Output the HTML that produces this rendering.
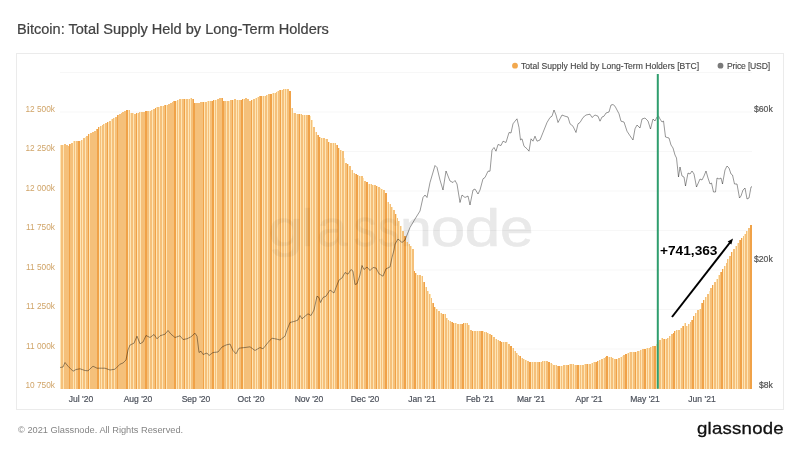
<!DOCTYPE html>
<html><head><meta charset="utf-8"><title>Bitcoin: Total Supply Held by Long-Term Holders</title>
<style>
html,body{margin:0;padding:0;background:#fff;}
body{width:800px;height:450px;position:relative;overflow:hidden;font-family:"Liberation Sans",sans-serif;}
.abs{position:absolute;white-space:nowrap;}
.abs,.yl,.xl,.rl,.lg{will-change:transform;}
#title{left:16.5px;top:19px;font-size:14.55px;color:#424242;line-height:20px;letter-spacing:0px;-webkit-text-stroke:0.22px #424242;}
#frame{position:absolute;left:16px;top:53px;width:768px;height:357px;border:1px solid #ebebeb;box-sizing:border-box;}
.yl{position:absolute;left:19px;width:36px;text-align:right;font-size:8.3px;line-height:12px;color:#d0a468;white-space:nowrap;}
.xl{position:absolute;top:393px;width:60px;text-align:center;font-size:8.55px;line-height:12px;color:#4d525c;-webkit-text-stroke:0.2px #4d525c;white-space:nowrap;}
.rl{position:absolute;left:754px;font-size:8.65px;line-height:12px;color:#555;-webkit-text-stroke:0.2px #555;white-space:nowrap;}
.lg{position:absolute;top:60px;font-size:8.6px;line-height:12px;color:#444;-webkit-text-stroke:0.12px #444;white-space:nowrap;}
#copy{left:17.8px;top:424px;font-size:9.25px;line-height:12px;color:#858585;}
#logo{left:697.3px;top:416.2px;font-size:16.4px;line-height:24px;letter-spacing:0.2px;color:#111;-webkit-text-stroke:0.3px #111;transform:scaleX(1.135);transform-origin:0 0;}
.wm{left:270.5px;top:196px;font-size:54px;line-height:64px;letter-spacing:0px;color:#7a7a7a;-webkit-text-stroke:1.4px #7a7a7a;transform:scaleX(1.07);transform-origin:0 0;}
#anno{left:660.3px;top:243.2px;font-size:13.7px;line-height:16px;font-weight:bold;color:#000;}
svg{position:absolute;left:0;top:0;}
</style></head><body>
<div id="title" class="abs">Bitcoin: Total Supply Held by Long-Term Holders</div>
<div id="frame"></div>
<svg width="800" height="450" viewBox="0 0 800 450">
<g stroke="#f7f7f7" stroke-width="1"><line x1="60" x2="752" y1="72.50" y2="72.50"/><line x1="60" x2="752" y1="112.00" y2="112.00"/><line x1="60" x2="752" y1="151.50" y2="151.50"/><line x1="60" x2="752" y1="191.00" y2="191.00"/><line x1="60" x2="752" y1="230.50" y2="230.50"/><line x1="60" x2="752" y1="270.00" y2="270.00"/><line x1="60" x2="752" y1="309.50" y2="309.50"/><line x1="60" x2="752" y1="349.00" y2="349.00"/><line x1="60" x2="752" y1="388.50" y2="388.50"/></g>
<g opacity="0.09" fill="#7a7a7a" stroke="#7a7a7a" stroke-width="0.6" stroke-linejoin="round" font-family="Liberation Sans, sans-serif" font-size="52.0"><text transform="translate(268.23,246.0) scale(1.2049,1)">g</text><text transform="translate(301.42,246.0) scale(1.0250,1)">l</text><text transform="translate(316.68,246.0) scale(1.0581,1)">a</text><text transform="translate(353.57,246.0) scale(0.9022,1)">s</text><text transform="translate(378.05,246.0) scale(0.8334,1)">s</text><text transform="translate(399.94,246.0) scale(1.0974,1)">n</text><text transform="translate(430.97,246.0) scale(1.1847,1)">o</text><text transform="translate(464.46,246.0) scale(1.2425,1)">d</text><text transform="translate(499.98,246.0) scale(1.1601,1)">e</text></g>
<g shape-rendering="crispEdges">
<g fill="rgb(240,162,72)"><rect x="69" y="144.2" width="1" height="244.5"/><rect x="78" y="140.5" width="1" height="248.2"/><rect x="79" y="140.5" width="1" height="248.2"/><rect x="88" y="134.3" width="1" height="254.4"/><rect x="97" y="129.1" width="1" height="259.6"/><rect x="98" y="127.2" width="1" height="261.5"/><rect x="107" y="122.0" width="1" height="266.7"/><rect x="117" y="115.3" width="1" height="273.4"/><rect x="126" y="110.3" width="1" height="278.4"/><rect x="127" y="110.3" width="1" height="278.4"/><rect x="136" y="113.4" width="1" height="275.3"/><rect x="145" y="111.0" width="1" height="277.7"/><rect x="146" y="111.0" width="1" height="277.7"/><rect x="155" y="107.9" width="1" height="280.8"/><rect x="165" y="105.0" width="1" height="283.7"/><rect x="174" y="101.3" width="1" height="287.4"/><rect x="175" y="100.5" width="1" height="288.2"/><rect x="184" y="98.8" width="1" height="289.9"/><rect x="193" y="99.3" width="1" height="289.4"/><rect x="194" y="102.5" width="1" height="286.2"/><rect x="203" y="102.1" width="1" height="286.6"/><rect x="212" y="100.6" width="1" height="288.1"/><rect x="213" y="100.2" width="1" height="288.5"/><rect x="222" y="97.6" width="1" height="291.1"/><rect x="223" y="101.0" width="1" height="287.7"/><rect x="232" y="99.7" width="1" height="289.0"/><rect x="241" y="99.8" width="1" height="288.9"/><rect x="242" y="99.1" width="1" height="289.6"/><rect x="251" y="99.9" width="1" height="288.8"/><rect x="260" y="95.8" width="1" height="292.9"/><rect x="261" y="95.8" width="1" height="292.9"/><rect x="270" y="93.5" width="1" height="295.2"/><rect x="271" y="93.5" width="1" height="295.2"/><rect x="280" y="89.9" width="1" height="298.8"/><rect x="289" y="91.2" width="1" height="297.5"/><rect x="290" y="91.2" width="1" height="297.5"/><rect x="299" y="113.7" width="1" height="275.0"/><rect x="308" y="115.3" width="1" height="273.4"/><rect x="309" y="115.3" width="1" height="273.4"/><rect x="318" y="135.4" width="1" height="253.3"/><rect x="319" y="137.0" width="1" height="251.7"/><rect x="328" y="141.6" width="1" height="247.1"/><rect x="337" y="144.5" width="1" height="244.2"/><rect x="338" y="147.8" width="1" height="240.9"/><rect x="347" y="164.4" width="1" height="224.3"/><rect x="356" y="173.9" width="1" height="214.8"/><rect x="357" y="175.3" width="1" height="213.4"/><rect x="366" y="182.3" width="1" height="206.4"/><rect x="367" y="182.3" width="1" height="206.4"/><rect x="376" y="186.2" width="1" height="202.5"/><rect x="385" y="192.5" width="1" height="196.2"/><rect x="386" y="192.5" width="1" height="196.2"/><rect x="395" y="214.2" width="1" height="174.5"/><rect x="404" y="236.2" width="1" height="152.5"/><rect x="405" y="236.2" width="1" height="152.5"/><rect x="414" y="270.7" width="1" height="118.0"/><rect x="415" y="273.2" width="1" height="115.5"/><rect x="424" y="281.9" width="1" height="106.8"/><rect x="433" y="303.2" width="1" height="85.5"/><rect x="434" y="306.7" width="1" height="82.0"/><rect x="443" y="313.6" width="1" height="75.1"/><rect x="452" y="321.7" width="1" height="67.0"/><rect x="453" y="322.5" width="1" height="66.2"/><rect x="462" y="323.5" width="1" height="65.2"/><rect x="463" y="323.2" width="1" height="65.5"/><rect x="472" y="330.6" width="1" height="58.1"/><rect x="481" y="330.6" width="1" height="58.1"/><rect x="482" y="330.7" width="1" height="58.0"/><rect x="491" y="335.4" width="1" height="53.3"/><rect x="500" y="341.3" width="1" height="47.4"/><rect x="501" y="341.6" width="1" height="47.1"/><rect x="510" y="346.1" width="1" height="42.6"/><rect x="511" y="346.1" width="1" height="42.6"/><rect x="520" y="356.3" width="1" height="32.4"/><rect x="529" y="361.7" width="1" height="27.0"/><rect x="530" y="361.7" width="1" height="27.0"/><rect x="539" y="361.8" width="1" height="26.9"/><rect x="548" y="362.1" width="1" height="26.6"/><rect x="549" y="362.1" width="1" height="26.6"/><rect x="558" y="365.5" width="1" height="23.2"/><rect x="559" y="365.7" width="1" height="23.0"/><rect x="568" y="364.6" width="1" height="24.1"/><rect x="577" y="364.7" width="1" height="24.0"/><rect x="578" y="364.9" width="1" height="23.8"/><rect x="587" y="364.2" width="1" height="24.5"/><rect x="596" y="361.6" width="1" height="27.1"/><rect x="597" y="360.8" width="1" height="27.9"/><rect x="606" y="356.4" width="1" height="32.3"/><rect x="607" y="356.4" width="1" height="32.3"/><rect x="616" y="358.6" width="1" height="30.1"/><rect x="625" y="353.7" width="1" height="35.0"/><rect x="626" y="353.7" width="1" height="35.0"/><rect x="635" y="351.8" width="1" height="36.9"/><rect x="644" y="348.7" width="1" height="40.0"/><rect x="645" y="348.7" width="1" height="40.0"/><rect x="654" y="345.6" width="1" height="43.1"/><rect x="655" y="345.6" width="1" height="43.1"/><rect x="664" y="338.9" width="1" height="49.8"/><rect x="673" y="332.5" width="1" height="56.2"/><rect x="674" y="330.7" width="1" height="58.0"/><rect x="683" y="325.5" width="1" height="63.2"/><rect x="692" y="319.7" width="1" height="69.0"/><rect x="693" y="316.3" width="1" height="72.4"/><rect x="702" y="303.3" width="1" height="85.4"/><rect x="703" y="300.0" width="1" height="88.7"/><rect x="712" y="284.8" width="1" height="103.9"/><rect x="721" y="272.0" width="1" height="116.7"/><rect x="722" y="269.1" width="1" height="119.6"/><rect x="731" y="252.2" width="1" height="136.5"/><rect x="740" y="240.4" width="1" height="148.3"/><rect x="741" y="238.1" width="1" height="150.6"/><rect x="750" y="225.4" width="1" height="163.3"/><rect x="751" y="225.4" width="1" height="163.3"/></g>
<g fill="rgb(254,229,182)"><rect x="60" y="144.8" width="1" height="243.9"/><rect x="63" y="144.5" width="1" height="244.2"/><rect x="73" y="141.2" width="1" height="247.5"/><rect x="75" y="140.5" width="1" height="248.2"/><rect x="80" y="140.5" width="1" height="248.2"/><rect x="82" y="139.5" width="1" height="249.2"/><rect x="85" y="137.1" width="1" height="251.6"/><rect x="89" y="134.3" width="1" height="254.4"/><rect x="99" y="127.2" width="1" height="261.5"/><rect x="101" y="125.7" width="1" height="263.0"/><rect x="104" y="124.0" width="1" height="264.7"/><rect x="108" y="122.0" width="1" height="266.7"/><rect x="111" y="119.4" width="1" height="269.3"/><rect x="114" y="117.9" width="1" height="270.8"/><rect x="128" y="110.0" width="1" height="278.7"/><rect x="130" y="112.7" width="1" height="276.0"/><rect x="133" y="113.3" width="1" height="275.4"/><rect x="137" y="113.4" width="1" height="275.3"/><rect x="140" y="112.4" width="1" height="276.3"/><rect x="149" y="111.0" width="1" height="277.7"/><rect x="152" y="110.0" width="1" height="278.7"/><rect x="156" y="107.4" width="1" height="281.3"/><rect x="159" y="106.9" width="1" height="281.8"/><rect x="162" y="105.7" width="1" height="283.0"/><rect x="166" y="104.5" width="1" height="284.2"/><rect x="176" y="100.5" width="1" height="288.2"/><rect x="178" y="99.7" width="1" height="289.0"/><rect x="181" y="98.9" width="1" height="289.8"/><rect x="185" y="98.8" width="1" height="289.9"/><rect x="188" y="98.9" width="1" height="289.8"/><rect x="190" y="98.3" width="1" height="290.4"/><rect x="204" y="101.8" width="1" height="286.9"/><rect x="207" y="101.2" width="1" height="287.5"/><rect x="209" y="100.9" width="1" height="287.8"/><rect x="214" y="100.2" width="1" height="288.5"/><rect x="216" y="99.6" width="1" height="289.1"/><rect x="226" y="100.9" width="1" height="287.8"/><rect x="229" y="100.5" width="1" height="288.2"/><rect x="233" y="99.7" width="1" height="289.0"/><rect x="236" y="99.5" width="1" height="289.2"/><rect x="238" y="99.8" width="1" height="288.9"/><rect x="243" y="98.5" width="1" height="290.2"/><rect x="252" y="99.9" width="1" height="288.8"/><rect x="255" y="98.3" width="1" height="290.4"/><rect x="257" y="97.2" width="1" height="291.5"/><rect x="262" y="95.8" width="1" height="292.9"/><rect x="264" y="95.7" width="1" height="293.0"/><rect x="267" y="94.9" width="1" height="293.8"/><rect x="272" y="93.1" width="1" height="295.6"/><rect x="274" y="92.6" width="1" height="296.1"/><rect x="277" y="90.8" width="1" height="297.9"/><rect x="281" y="89.5" width="1" height="299.2"/><rect x="284" y="89.0" width="1" height="299.7"/><rect x="286" y="88.8" width="1" height="299.9"/><rect x="291" y="108.0" width="1" height="280.7"/><rect x="293" y="113.1" width="1" height="275.6"/><rect x="296" y="113.5" width="1" height="275.2"/><rect x="300" y="114.0" width="1" height="274.7"/><rect x="303" y="114.5" width="1" height="274.2"/><rect x="305" y="115.0" width="1" height="273.7"/><rect x="310" y="115.5" width="1" height="273.2"/><rect x="312" y="119.9" width="1" height="268.8"/><rect x="315" y="131.5" width="1" height="257.2"/><rect x="320" y="137.0" width="1" height="251.7"/><rect x="322" y="137.5" width="1" height="251.2"/><rect x="325" y="138.6" width="1" height="250.1"/><rect x="329" y="141.6" width="1" height="247.1"/><rect x="332" y="142.8" width="1" height="245.9"/><rect x="334" y="142.9" width="1" height="245.8"/><rect x="339" y="147.8" width="1" height="240.9"/><rect x="341" y="150.3" width="1" height="238.4"/><rect x="344" y="157.6" width="1" height="231.1"/><rect x="348" y="164.4" width="1" height="224.3"/><rect x="351" y="170.1" width="1" height="218.6"/><rect x="353" y="172.5" width="1" height="216.2"/><rect x="358" y="175.3" width="1" height="213.4"/><rect x="360" y="175.7" width="1" height="213.0"/><rect x="363" y="178.4" width="1" height="210.3"/><rect x="368" y="183.5" width="1" height="205.2"/><rect x="370" y="184.3" width="1" height="204.4"/><rect x="373" y="184.9" width="1" height="203.8"/><rect x="377" y="186.2" width="1" height="202.5"/><rect x="380" y="187.7" width="1" height="201.0"/><rect x="382" y="188.7" width="1" height="200.0"/><rect x="387" y="202.0" width="1" height="186.7"/><rect x="389" y="203.9" width="1" height="184.8"/><rect x="392" y="207.0" width="1" height="181.7"/><rect x="396" y="214.2" width="1" height="174.5"/><rect x="399" y="221.3" width="1" height="167.4"/><rect x="401" y="225.7" width="1" height="163.0"/><rect x="406" y="242.3" width="1" height="146.4"/><rect x="408" y="244.0" width="1" height="144.7"/><rect x="411" y="246.0" width="1" height="142.7"/><rect x="416" y="273.2" width="1" height="115.5"/><rect x="418" y="274.5" width="1" height="114.2"/><rect x="421" y="276.2" width="1" height="112.5"/><rect x="425" y="286.7" width="1" height="102.0"/><rect x="428" y="290.5" width="1" height="98.2"/><rect x="430" y="293.7" width="1" height="95.0"/><rect x="435" y="306.7" width="1" height="82.0"/><rect x="437" y="309.2" width="1" height="79.5"/><rect x="440" y="312.9" width="1" height="75.8"/><rect x="444" y="314.4" width="1" height="74.3"/><rect x="447" y="317.5" width="1" height="71.2"/><rect x="449" y="321.0" width="1" height="67.7"/><rect x="454" y="322.5" width="1" height="66.2"/><rect x="456" y="323.2" width="1" height="65.5"/><rect x="459" y="323.7" width="1" height="65.0"/><rect x="464" y="323.2" width="1" height="65.5"/><rect x="466" y="322.9" width="1" height="65.8"/><rect x="469" y="325.4" width="1" height="63.3"/><rect x="473" y="330.6" width="1" height="58.1"/><rect x="476" y="330.9" width="1" height="57.8"/><rect x="478" y="330.7" width="1" height="58.0"/><rect x="483" y="330.7" width="1" height="58.0"/><rect x="485" y="332.2" width="1" height="56.5"/><rect x="488" y="333.1" width="1" height="55.6"/><rect x="492" y="335.4" width="1" height="53.3"/><rect x="495" y="339.3" width="1" height="49.4"/><rect x="497" y="340.3" width="1" height="48.4"/><rect x="502" y="341.6" width="1" height="47.1"/><rect x="504" y="341.7" width="1" height="47.0"/><rect x="507" y="341.9" width="1" height="46.8"/><rect x="512" y="348.4" width="1" height="40.3"/><rect x="514" y="350.7" width="1" height="38.0"/><rect x="517" y="352.6" width="1" height="36.1"/><rect x="521" y="357.8" width="1" height="30.9"/><rect x="524" y="359.3" width="1" height="29.4"/><rect x="526" y="360.4" width="1" height="28.3"/><rect x="531" y="361.8" width="1" height="26.9"/><rect x="533" y="361.8" width="1" height="26.9"/><rect x="536" y="361.8" width="1" height="26.9"/><rect x="540" y="361.5" width="1" height="27.2"/><rect x="543" y="361.1" width="1" height="27.6"/><rect x="545" y="360.8" width="1" height="27.9"/><rect x="550" y="362.8" width="1" height="25.9"/><rect x="552" y="363.8" width="1" height="24.9"/><rect x="555" y="365.2" width="1" height="23.5"/><rect x="560" y="365.7" width="1" height="23.0"/><rect x="562" y="365.5" width="1" height="23.2"/><rect x="565" y="364.9" width="1" height="23.8"/><rect x="569" y="364.3" width="1" height="24.4"/><rect x="572" y="364.4" width="1" height="24.3"/><rect x="574" y="364.5" width="1" height="24.2"/><rect x="579" y="364.9" width="1" height="23.8"/><rect x="581" y="364.9" width="1" height="23.8"/><rect x="584" y="364.3" width="1" height="24.4"/><rect x="588" y="364.1" width="1" height="24.6"/><rect x="591" y="363.1" width="1" height="25.6"/><rect x="593" y="362.3" width="1" height="26.4"/><rect x="598" y="360.8" width="1" height="27.9"/><rect x="600" y="360.1" width="1" height="28.6"/><rect x="603" y="357.9" width="1" height="30.8"/><rect x="608" y="356.6" width="1" height="32.1"/><rect x="610" y="357.2" width="1" height="31.5"/><rect x="613" y="358.2" width="1" height="30.5"/><rect x="617" y="358.6" width="1" height="30.1"/><rect x="620" y="356.7" width="1" height="32.0"/><rect x="622" y="355.6" width="1" height="33.1"/><rect x="627" y="352.8" width="1" height="35.9"/><rect x="629" y="352.0" width="1" height="36.7"/><rect x="632" y="352.0" width="1" height="36.7"/><rect x="636" y="351.8" width="1" height="36.9"/><rect x="639" y="350.6" width="1" height="38.1"/><rect x="641" y="350.0" width="1" height="38.7"/><rect x="646" y="348.2" width="1" height="40.5"/><rect x="648" y="347.8" width="1" height="40.9"/><rect x="651" y="347.2" width="1" height="41.5"/><rect x="656" y="344.2" width="1" height="44.5"/><rect x="658" y="342.0" width="1" height="46.7"/><rect x="661" y="338.2" width="1" height="50.5"/><rect x="665" y="339.2" width="1" height="49.5"/><rect x="668" y="337.7" width="1" height="51.0"/><rect x="670" y="336.2" width="1" height="52.5"/><rect x="675" y="330.7" width="1" height="58.0"/><rect x="677" y="329.5" width="1" height="59.2"/><rect x="680" y="328.4" width="1" height="60.3"/><rect x="684" y="322.7" width="1" height="66.0"/><rect x="687" y="325.6" width="1" height="63.1"/><rect x="689" y="324.1" width="1" height="64.6"/><rect x="694" y="316.3" width="1" height="72.4"/><rect x="696" y="312.6" width="1" height="76.1"/><rect x="699" y="309.0" width="1" height="79.7"/><rect x="704" y="300.0" width="1" height="88.7"/><rect x="706" y="296.9" width="1" height="91.8"/><rect x="709" y="290.9" width="1" height="97.8"/><rect x="713" y="284.8" width="1" height="103.9"/><rect x="716" y="278.5" width="1" height="110.2"/><rect x="718" y="275.2" width="1" height="113.5"/><rect x="723" y="269.1" width="1" height="119.6"/><rect x="725" y="266.1" width="1" height="122.6"/><rect x="728" y="259.1" width="1" height="129.6"/><rect x="732" y="252.2" width="1" height="136.5"/><rect x="735" y="246.1" width="1" height="142.6"/><rect x="737" y="243.3" width="1" height="145.4"/><rect x="742" y="238.1" width="1" height="150.6"/><rect x="744" y="233.5" width="1" height="155.2"/><rect x="747" y="231.0" width="1" height="157.7"/></g>
<g fill="rgb(237,174,97)"></g>
<g fill="rgb(245,192,122)"><rect x="61" y="144.8" width="1" height="243.9"/><rect x="62" y="144.5" width="1" height="244.2"/><rect x="64" y="144.2" width="1" height="244.5"/><rect x="65" y="144.2" width="1" height="244.5"/><rect x="66" y="144.6" width="1" height="244.1"/><rect x="67" y="144.6" width="1" height="244.1"/><rect x="68" y="145.6" width="1" height="243.1"/><rect x="70" y="144.2" width="1" height="244.5"/><rect x="71" y="142.8" width="1" height="245.9"/><rect x="72" y="142.8" width="1" height="245.9"/><rect x="74" y="141.2" width="1" height="247.5"/><rect x="76" y="140.5" width="1" height="248.2"/><rect x="77" y="140.5" width="1" height="248.2"/><rect x="81" y="139.5" width="1" height="249.2"/><rect x="83" y="138.3" width="1" height="250.4"/><rect x="84" y="138.3" width="1" height="250.4"/><rect x="86" y="135.7" width="1" height="253.0"/><rect x="87" y="135.7" width="1" height="253.0"/><rect x="90" y="133.1" width="1" height="255.6"/><rect x="91" y="133.1" width="1" height="255.6"/><rect x="92" y="132.1" width="1" height="256.6"/><rect x="93" y="132.1" width="1" height="256.6"/><rect x="94" y="131.0" width="1" height="257.7"/><rect x="95" y="131.0" width="1" height="257.7"/><rect x="96" y="129.1" width="1" height="259.6"/><rect x="100" y="125.7" width="1" height="263.0"/><rect x="102" y="124.9" width="1" height="263.8"/><rect x="103" y="124.0" width="1" height="264.7"/><rect x="105" y="123.0" width="1" height="265.7"/><rect x="106" y="123.0" width="1" height="265.7"/><rect x="109" y="120.9" width="1" height="267.8"/><rect x="110" y="120.9" width="1" height="267.8"/><rect x="112" y="119.4" width="1" height="269.3"/><rect x="113" y="117.9" width="1" height="270.8"/><rect x="115" y="116.5" width="1" height="272.2"/><rect x="116" y="116.5" width="1" height="272.2"/><rect x="118" y="115.3" width="1" height="273.4"/><rect x="119" y="114.0" width="1" height="274.7"/><rect x="120" y="114.0" width="1" height="274.7"/><rect x="121" y="113.0" width="1" height="275.7"/><rect x="122" y="111.9" width="1" height="276.8"/><rect x="123" y="111.9" width="1" height="276.8"/><rect x="124" y="110.9" width="1" height="277.8"/><rect x="125" y="110.9" width="1" height="277.8"/><rect x="129" y="110.0" width="1" height="278.7"/><rect x="131" y="112.7" width="1" height="276.0"/><rect x="132" y="113.3" width="1" height="275.4"/><rect x="134" y="113.7" width="1" height="275.0"/><rect x="135" y="113.7" width="1" height="275.0"/><rect x="138" y="112.9" width="1" height="275.8"/><rect x="139" y="112.4" width="1" height="276.3"/><rect x="141" y="111.9" width="1" height="276.8"/><rect x="142" y="111.9" width="1" height="276.8"/><rect x="143" y="111.5" width="1" height="277.2"/><rect x="144" y="111.5" width="1" height="277.2"/><rect x="147" y="110.8" width="1" height="277.9"/><rect x="148" y="110.8" width="1" height="277.9"/><rect x="150" y="111.0" width="1" height="277.7"/><rect x="151" y="110.0" width="1" height="278.7"/><rect x="153" y="108.8" width="1" height="279.9"/><rect x="154" y="108.8" width="1" height="279.9"/><rect x="157" y="107.4" width="1" height="281.3"/><rect x="158" y="106.9" width="1" height="281.8"/><rect x="160" y="106.3" width="1" height="282.4"/><rect x="161" y="106.3" width="1" height="282.4"/><rect x="163" y="105.7" width="1" height="283.0"/><rect x="164" y="105.0" width="1" height="283.7"/><rect x="167" y="104.5" width="1" height="284.2"/><rect x="168" y="104.1" width="1" height="284.6"/><rect x="169" y="104.1" width="1" height="284.6"/><rect x="170" y="103.4" width="1" height="285.3"/><rect x="171" y="103.4" width="1" height="285.3"/><rect x="172" y="102.4" width="1" height="286.3"/><rect x="173" y="101.3" width="1" height="287.4"/><rect x="177" y="99.7" width="1" height="289.0"/><rect x="179" y="99.0" width="1" height="289.7"/><rect x="180" y="99.0" width="1" height="289.7"/><rect x="182" y="98.9" width="1" height="289.8"/><rect x="183" y="98.8" width="1" height="289.9"/><rect x="186" y="98.8" width="1" height="289.9"/><rect x="187" y="98.9" width="1" height="289.8"/><rect x="189" y="99.0" width="1" height="289.7"/><rect x="191" y="98.3" width="1" height="290.4"/><rect x="192" y="99.3" width="1" height="289.4"/><rect x="195" y="102.5" width="1" height="286.2"/><rect x="196" y="102.5" width="1" height="286.2"/><rect x="197" y="102.5" width="1" height="286.2"/><rect x="198" y="102.5" width="1" height="286.2"/><rect x="199" y="102.5" width="1" height="286.2"/><rect x="200" y="102.4" width="1" height="286.3"/><rect x="201" y="102.4" width="1" height="286.3"/><rect x="202" y="102.1" width="1" height="286.6"/><rect x="205" y="101.8" width="1" height="286.9"/><rect x="206" y="101.5" width="1" height="287.2"/><rect x="208" y="101.2" width="1" height="287.5"/><rect x="210" y="100.9" width="1" height="287.8"/><rect x="211" y="100.6" width="1" height="288.1"/><rect x="215" y="99.6" width="1" height="289.1"/><rect x="217" y="98.9" width="1" height="289.8"/><rect x="218" y="98.9" width="1" height="289.8"/><rect x="219" y="98.1" width="1" height="290.6"/><rect x="220" y="98.1" width="1" height="290.6"/><rect x="221" y="97.6" width="1" height="291.1"/><rect x="224" y="101.0" width="1" height="287.7"/><rect x="225" y="101.0" width="1" height="287.7"/><rect x="227" y="100.9" width="1" height="287.8"/><rect x="228" y="100.5" width="1" height="288.2"/><rect x="230" y="100.1" width="1" height="288.6"/><rect x="231" y="100.1" width="1" height="288.6"/><rect x="234" y="99.3" width="1" height="289.4"/><rect x="235" y="99.3" width="1" height="289.4"/><rect x="237" y="99.5" width="1" height="289.2"/><rect x="239" y="99.8" width="1" height="288.9"/><rect x="240" y="99.8" width="1" height="288.9"/><rect x="244" y="98.5" width="1" height="290.2"/><rect x="245" y="98.4" width="1" height="290.3"/><rect x="246" y="98.4" width="1" height="290.3"/><rect x="247" y="98.8" width="1" height="289.9"/><rect x="248" y="98.8" width="1" height="289.9"/><rect x="249" y="100.6" width="1" height="288.1"/><rect x="250" y="100.6" width="1" height="288.1"/><rect x="253" y="99.2" width="1" height="289.5"/><rect x="254" y="99.2" width="1" height="289.5"/><rect x="256" y="98.3" width="1" height="290.4"/><rect x="258" y="97.2" width="1" height="291.5"/><rect x="259" y="96.1" width="1" height="292.6"/><rect x="263" y="95.8" width="1" height="292.9"/><rect x="265" y="95.7" width="1" height="293.0"/><rect x="266" y="94.9" width="1" height="293.8"/><rect x="268" y="94.2" width="1" height="294.5"/><rect x="269" y="94.2" width="1" height="294.5"/><rect x="273" y="93.1" width="1" height="295.6"/><rect x="275" y="92.6" width="1" height="296.1"/><rect x="276" y="91.8" width="1" height="296.9"/><rect x="278" y="90.8" width="1" height="297.9"/><rect x="279" y="89.9" width="1" height="298.8"/><rect x="282" y="89.5" width="1" height="299.2"/><rect x="283" y="89.0" width="1" height="299.7"/><rect x="285" y="88.8" width="1" height="299.9"/><rect x="287" y="88.9" width="1" height="299.8"/><rect x="288" y="88.9" width="1" height="299.8"/><rect x="292" y="108.0" width="1" height="280.7"/><rect x="294" y="113.3" width="1" height="275.4"/><rect x="295" y="113.3" width="1" height="275.4"/><rect x="297" y="113.5" width="1" height="275.2"/><rect x="298" y="113.7" width="1" height="275.0"/><rect x="301" y="114.0" width="1" height="274.7"/><rect x="302" y="114.5" width="1" height="274.2"/><rect x="304" y="115.0" width="1" height="273.7"/><rect x="306" y="115.1" width="1" height="273.6"/><rect x="307" y="115.1" width="1" height="273.6"/><rect x="311" y="119.9" width="1" height="268.8"/><rect x="313" y="126.5" width="1" height="262.2"/><rect x="314" y="126.5" width="1" height="262.2"/><rect x="316" y="131.5" width="1" height="257.2"/><rect x="317" y="135.4" width="1" height="253.3"/><rect x="321" y="137.5" width="1" height="251.2"/><rect x="323" y="138.1" width="1" height="250.6"/><rect x="324" y="138.1" width="1" height="250.6"/><rect x="326" y="138.6" width="1" height="250.1"/><rect x="327" y="139.1" width="1" height="249.6"/><rect x="330" y="142.6" width="1" height="246.1"/><rect x="331" y="142.6" width="1" height="246.1"/><rect x="333" y="142.8" width="1" height="245.9"/><rect x="335" y="142.9" width="1" height="245.8"/><rect x="336" y="144.5" width="1" height="244.2"/><rect x="340" y="150.3" width="1" height="238.4"/><rect x="342" y="150.9" width="1" height="237.8"/><rect x="343" y="150.9" width="1" height="237.8"/><rect x="345" y="162.7" width="1" height="226.0"/><rect x="346" y="162.7" width="1" height="226.0"/><rect x="349" y="165.6" width="1" height="223.1"/><rect x="350" y="165.6" width="1" height="223.1"/><rect x="352" y="170.1" width="1" height="218.6"/><rect x="354" y="172.5" width="1" height="216.2"/><rect x="355" y="173.9" width="1" height="214.8"/><rect x="359" y="175.7" width="1" height="213.0"/><rect x="361" y="175.9" width="1" height="212.8"/><rect x="362" y="175.9" width="1" height="212.8"/><rect x="364" y="181.2" width="1" height="207.5"/><rect x="365" y="181.2" width="1" height="207.5"/><rect x="369" y="183.5" width="1" height="205.2"/><rect x="371" y="184.3" width="1" height="204.4"/><rect x="372" y="184.9" width="1" height="203.8"/><rect x="374" y="185.4" width="1" height="203.3"/><rect x="375" y="185.4" width="1" height="203.3"/><rect x="378" y="186.9" width="1" height="201.8"/><rect x="379" y="186.9" width="1" height="201.8"/><rect x="381" y="188.7" width="1" height="200.0"/><rect x="383" y="189.6" width="1" height="199.1"/><rect x="384" y="189.6" width="1" height="199.1"/><rect x="388" y="202.0" width="1" height="186.7"/><rect x="390" y="203.9" width="1" height="184.8"/><rect x="391" y="207.0" width="1" height="181.7"/><rect x="393" y="210.4" width="1" height="178.3"/><rect x="394" y="210.4" width="1" height="178.3"/><rect x="397" y="217.8" width="1" height="170.9"/><rect x="398" y="221.3" width="1" height="167.4"/><rect x="400" y="225.7" width="1" height="163.0"/><rect x="402" y="230.5" width="1" height="158.2"/><rect x="403" y="230.5" width="1" height="158.2"/><rect x="407" y="242.3" width="1" height="146.4"/><rect x="409" y="244.0" width="1" height="144.7"/><rect x="410" y="246.0" width="1" height="142.7"/><rect x="412" y="248.5" width="1" height="140.2"/><rect x="413" y="248.5" width="1" height="140.2"/><rect x="417" y="274.5" width="1" height="114.2"/><rect x="419" y="275.3" width="1" height="113.4"/><rect x="420" y="275.3" width="1" height="113.4"/><rect x="422" y="276.2" width="1" height="112.5"/><rect x="423" y="281.9" width="1" height="106.8"/><rect x="426" y="286.7" width="1" height="102.0"/><rect x="427" y="290.5" width="1" height="98.2"/><rect x="429" y="293.7" width="1" height="95.0"/><rect x="431" y="297.6" width="1" height="91.1"/><rect x="432" y="303.2" width="1" height="85.5"/><rect x="436" y="309.2" width="1" height="79.5"/><rect x="438" y="311.4" width="1" height="77.3"/><rect x="439" y="311.4" width="1" height="77.3"/><rect x="441" y="312.9" width="1" height="75.8"/><rect x="442" y="313.6" width="1" height="75.1"/><rect x="445" y="314.4" width="1" height="74.3"/><rect x="446" y="317.5" width="1" height="71.2"/><rect x="448" y="320.2" width="1" height="68.5"/><rect x="450" y="321.0" width="1" height="67.7"/><rect x="451" y="321.7" width="1" height="67.0"/><rect x="455" y="323.2" width="1" height="65.5"/><rect x="457" y="324.0" width="1" height="64.7"/><rect x="458" y="324.0" width="1" height="64.7"/><rect x="460" y="323.7" width="1" height="65.0"/><rect x="461" y="323.5" width="1" height="65.2"/><rect x="465" y="322.9" width="1" height="65.8"/><rect x="467" y="322.6" width="1" height="66.1"/><rect x="468" y="325.4" width="1" height="63.3"/><rect x="470" y="330.2" width="1" height="58.5"/><rect x="471" y="330.2" width="1" height="58.5"/><rect x="474" y="331.0" width="1" height="57.7"/><rect x="475" y="331.0" width="1" height="57.7"/><rect x="477" y="330.9" width="1" height="57.8"/><rect x="479" y="330.7" width="1" height="58.0"/><rect x="480" y="330.6" width="1" height="58.1"/><rect x="484" y="331.5" width="1" height="57.2"/><rect x="486" y="332.2" width="1" height="56.5"/><rect x="487" y="333.1" width="1" height="55.6"/><rect x="489" y="334.1" width="1" height="54.6"/><rect x="490" y="334.1" width="1" height="54.6"/><rect x="493" y="337.1" width="1" height="51.6"/><rect x="494" y="337.1" width="1" height="51.6"/><rect x="496" y="339.3" width="1" height="49.4"/><rect x="498" y="340.3" width="1" height="48.4"/><rect x="499" y="341.3" width="1" height="47.4"/><rect x="503" y="341.6" width="1" height="47.1"/><rect x="505" y="341.7" width="1" height="47.0"/><rect x="506" y="341.9" width="1" height="46.8"/><rect x="508" y="344.0" width="1" height="44.7"/><rect x="509" y="344.0" width="1" height="44.7"/><rect x="513" y="348.4" width="1" height="40.3"/><rect x="515" y="350.7" width="1" height="38.0"/><rect x="516" y="352.6" width="1" height="36.1"/><rect x="518" y="354.5" width="1" height="34.2"/><rect x="519" y="356.3" width="1" height="32.4"/><rect x="522" y="357.8" width="1" height="30.9"/><rect x="523" y="359.3" width="1" height="29.4"/><rect x="525" y="360.4" width="1" height="28.3"/><rect x="527" y="361.0" width="1" height="27.7"/><rect x="528" y="361.0" width="1" height="27.7"/><rect x="532" y="361.8" width="1" height="26.9"/><rect x="534" y="361.8" width="1" height="26.9"/><rect x="535" y="361.8" width="1" height="26.9"/><rect x="537" y="361.8" width="1" height="26.9"/><rect x="538" y="361.8" width="1" height="26.9"/><rect x="541" y="361.5" width="1" height="27.2"/><rect x="542" y="361.1" width="1" height="27.6"/><rect x="544" y="360.8" width="1" height="27.9"/><rect x="546" y="361.4" width="1" height="27.3"/><rect x="547" y="361.4" width="1" height="27.3"/><rect x="551" y="362.8" width="1" height="25.9"/><rect x="553" y="364.7" width="1" height="24.0"/><rect x="554" y="364.7" width="1" height="24.0"/><rect x="556" y="365.2" width="1" height="23.5"/><rect x="557" y="365.5" width="1" height="23.2"/><rect x="561" y="365.5" width="1" height="23.2"/><rect x="563" y="365.2" width="1" height="23.5"/><rect x="564" y="365.2" width="1" height="23.5"/><rect x="566" y="364.9" width="1" height="23.8"/><rect x="567" y="364.6" width="1" height="24.1"/><rect x="570" y="364.3" width="1" height="24.4"/><rect x="571" y="364.3" width="1" height="24.4"/><rect x="573" y="364.4" width="1" height="24.3"/><rect x="575" y="364.5" width="1" height="24.2"/><rect x="576" y="364.7" width="1" height="24.0"/><rect x="580" y="364.9" width="1" height="23.8"/><rect x="582" y="364.6" width="1" height="24.1"/><rect x="583" y="364.6" width="1" height="24.1"/><rect x="585" y="364.3" width="1" height="24.4"/><rect x="586" y="364.2" width="1" height="24.5"/><rect x="589" y="363.9" width="1" height="24.8"/><rect x="590" y="363.9" width="1" height="24.8"/><rect x="592" y="363.1" width="1" height="25.6"/><rect x="594" y="362.3" width="1" height="26.4"/><rect x="595" y="361.6" width="1" height="27.1"/><rect x="599" y="360.1" width="1" height="28.6"/><rect x="601" y="359.0" width="1" height="29.7"/><rect x="602" y="359.0" width="1" height="29.7"/><rect x="604" y="357.9" width="1" height="30.8"/><rect x="605" y="356.9" width="1" height="31.8"/><rect x="609" y="356.6" width="1" height="32.1"/><rect x="611" y="357.2" width="1" height="31.5"/><rect x="612" y="358.2" width="1" height="30.5"/><rect x="614" y="359.4" width="1" height="29.3"/><rect x="615" y="359.4" width="1" height="29.3"/><rect x="618" y="357.6" width="1" height="31.1"/><rect x="619" y="357.6" width="1" height="31.1"/><rect x="621" y="356.7" width="1" height="32.0"/><rect x="623" y="354.6" width="1" height="34.1"/><rect x="624" y="354.6" width="1" height="34.1"/><rect x="628" y="352.8" width="1" height="35.9"/><rect x="630" y="352.0" width="1" height="36.7"/><rect x="631" y="352.0" width="1" height="36.7"/><rect x="633" y="352.0" width="1" height="36.7"/><rect x="634" y="352.0" width="1" height="36.7"/><rect x="637" y="351.2" width="1" height="37.5"/><rect x="638" y="351.2" width="1" height="37.5"/><rect x="640" y="350.0" width="1" height="38.7"/><rect x="642" y="349.4" width="1" height="39.3"/><rect x="643" y="349.4" width="1" height="39.3"/><rect x="647" y="348.2" width="1" height="40.5"/><rect x="649" y="347.8" width="1" height="40.9"/><rect x="650" y="347.2" width="1" height="41.5"/><rect x="652" y="346.4" width="1" height="42.3"/><rect x="653" y="346.4" width="1" height="42.3"/><rect x="657" y="342.0" width="1" height="46.7"/><rect x="659" y="339.7" width="1" height="49.0"/><rect x="660" y="339.7" width="1" height="49.0"/><rect x="662" y="338.2" width="1" height="50.5"/><rect x="663" y="338.9" width="1" height="49.8"/><rect x="666" y="339.2" width="1" height="49.5"/><rect x="667" y="337.7" width="1" height="51.0"/><rect x="669" y="336.2" width="1" height="52.5"/><rect x="671" y="334.4" width="1" height="54.3"/><rect x="672" y="334.4" width="1" height="54.3"/><rect x="676" y="329.5" width="1" height="59.2"/><rect x="678" y="329.6" width="1" height="59.1"/><rect x="679" y="329.6" width="1" height="59.1"/><rect x="681" y="328.4" width="1" height="60.3"/><rect x="682" y="325.5" width="1" height="63.2"/><rect x="685" y="322.7" width="1" height="66.0"/><rect x="686" y="325.6" width="1" height="63.1"/><rect x="688" y="324.1" width="1" height="64.6"/><rect x="690" y="321.9" width="1" height="66.8"/><rect x="691" y="319.7" width="1" height="69.0"/><rect x="695" y="312.6" width="1" height="76.1"/><rect x="697" y="310.3" width="1" height="78.4"/><rect x="698" y="310.3" width="1" height="78.4"/><rect x="700" y="309.0" width="1" height="79.7"/><rect x="701" y="303.3" width="1" height="85.4"/><rect x="705" y="296.9" width="1" height="91.8"/><rect x="707" y="293.9" width="1" height="94.8"/><rect x="708" y="293.9" width="1" height="94.8"/><rect x="710" y="287.8" width="1" height="100.9"/><rect x="711" y="287.8" width="1" height="100.9"/><rect x="714" y="281.8" width="1" height="106.9"/><rect x="715" y="281.8" width="1" height="106.9"/><rect x="717" y="278.5" width="1" height="110.2"/><rect x="719" y="275.2" width="1" height="113.5"/><rect x="720" y="272.0" width="1" height="116.7"/><rect x="724" y="266.1" width="1" height="122.6"/><rect x="726" y="262.7" width="1" height="126.0"/><rect x="727" y="259.1" width="1" height="129.6"/><rect x="729" y="255.5" width="1" height="133.2"/><rect x="730" y="255.5" width="1" height="133.2"/><rect x="733" y="249.0" width="1" height="139.7"/><rect x="734" y="249.0" width="1" height="139.7"/><rect x="736" y="246.1" width="1" height="142.6"/><rect x="738" y="243.3" width="1" height="145.4"/><rect x="739" y="240.4" width="1" height="148.3"/><rect x="743" y="235.8" width="1" height="152.9"/><rect x="745" y="233.5" width="1" height="155.2"/><rect x="746" y="231.0" width="1" height="157.7"/><rect x="748" y="227.9" width="1" height="160.8"/><rect x="749" y="227.9" width="1" height="160.8"/></g>
</g>
<path d="M60.0,367.5 L63.0,367.0 L65.0,362.5 L68.0,366.2 L73.0,371.2 L76.0,369.5 L80.0,368.8 L85.0,370.5 L88.0,370.8 L93.0,366.2 L97.0,368.2 L105.0,368.2 L110.0,370.0 L115.0,369.2 L120.0,364.2 L123.0,363.0 L126.0,360.0 L128.0,350.0 L130.0,345.0 L134.0,343.2 L137.0,336.2 L140.0,343.8 L143.0,342.0 L146.0,335.5 L150.0,337.5 L154.0,334.5 L157.0,338.8 L160.0,335.8 L165.0,334.2 L168.0,330.5 L171.0,334.2 L175.0,337.5 L180.0,335.8 L183.0,339.5 L187.0,338.8 L191.0,336.8 L195.0,333.2 L197.0,336.2 L199.0,352.5 L201.0,351.2 L203.0,354.5 L207.0,353.0 L209.0,355.5 L213.0,352.5 L218.0,352.0 L222.0,347.0 L226.0,345.0 L230.0,344.0 L233.0,350.5 L236.0,353.8 L239.0,348.2 L245.0,347.5 L250.0,346.8 L255.0,350.5 L260.0,347.5 L263.0,348.8 L268.0,342.5 L272.0,338.2 L277.0,339.2 L280.0,340.0 L285.0,336.2 L287.0,330.0 L290.0,322.5 L295.0,321.2 L298.0,320.0 L300.0,315.5 L302.0,318.8 L305.0,316.2 L308.0,313.8 L311.0,315.5 L314.0,310.0 L317.0,296.2 L319.0,297.5 L320.5,302.5 L323.0,297.5 L326.0,296.2 L330.0,290.0 L334.0,293.0 L336.0,287.5 L339.0,280.0 L342.0,278.0 L345.0,272.5 L348.0,274.2 L351.0,269.5 L353.0,271.2 L355.0,284.5 L357.0,283.8 L360.0,275.0 L362.0,265.5 L364.0,269.5 L367.0,267.0 L370.0,270.5 L373.0,267.5 L376.0,268.0 L379.0,273.8 L383.0,276.2 L386.0,268.8 L390.0,267.0 L392.0,257.5 L394.0,250.0 L395.0,244.0 L398.0,239.0 L402.0,242.5 L405.0,240.0 L410.0,227.5 L415.0,219.0 L420.0,211.0 L423.0,197.5 L425.0,195.0 L427.0,197.5 L430.0,182.5 L435.0,165.5 L437.0,167.5 L440.0,180.0 L443.0,190.0 L446.0,171.0 L450.0,181.0 L453.0,182.5 L455.0,180.5 L457.0,184.0 L460.0,202.5 L462.0,195.0 L465.0,197.5 L468.0,196.0 L470.0,205.0 L473.0,190.0 L475.0,189.0 L478.0,194.0 L480.0,190.0 L483.0,178.8 L485.0,177.5 L488.0,171.2 L490.0,171.2 L492.0,150.0 L494.0,147.5 L496.0,151.2 L498.0,144.5 L501.0,145.5 L503.0,141.2 L506.0,142.5 L509.0,132.5 L511.0,133.0 L513.0,123.8 L515.0,121.2 L517.0,118.8 L519.0,127.5 L520.5,140.0 L522.0,138.8 L524.0,146.2 L527.0,148.8 L529.0,151.2 L531.0,138.8 L533.0,141.2 L535.0,136.2 L537.0,141.2 L540.0,140.0 L543.0,132.5 L547.0,122.5 L550.0,117.5 L552.0,116.2 L554.0,110.0 L556.0,115.0 L558.0,122.5 L560.0,118.8 L562.0,115.0 L565.0,116.2 L568.0,117.0 L570.0,123.8 L573.0,126.2 L576.0,132.5 L578.0,123.8 L580.0,122.5 L583.0,117.5 L586.0,115.0 L590.0,114.2 L592.0,117.5 L595.0,115.0 L598.0,116.2 L600.0,121.2 L602.0,117.0 L604.0,116.2 L606.0,113.0 L609.0,112.0 L611.0,105.0 L613.0,104.5 L615.0,106.2 L617.0,110.0 L619.0,113.8 L621.0,121.2 L624.0,122.0 L627.0,131.2 L630.0,135.8 L633.0,140.0 L635.0,128.8 L637.0,125.0 L640.0,128.0 L642.0,119.0 L645.0,118.0 L648.0,121.0 L650.5,129.0 L653.0,119.0 L655.0,121.0 L657.0,117.0 L658.5,116.0 L660.0,119.0 L662.0,122.0 L663.5,121.0 L665.5,137.0 L669.0,138.0 L671.0,145.0 L673.0,148.0 L675.0,155.0 L676.5,158.0 L678.5,177.0 L680.0,167.0 L682.0,176.0 L684.0,177.0 L685.5,186.0 L688.0,173.0 L690.0,174.0 L692.0,171.0 L694.0,174.0 L696.5,187.0 L700.0,179.0 L702.0,180.0 L704.0,176.0 L706.0,171.0 L708.0,178.0 L710.0,184.0 L711.5,183.0 L713.5,192.0 L715.5,192.0 L717.0,178.0 L719.0,179.0 L721.0,178.0 L722.5,184.0 L725.0,170.0 L727.0,166.0 L729.0,168.0 L731.0,174.0 L732.5,175.0 L734.5,184.0 L737.0,184.0 L739.5,198.0 L741.0,196.0 L743.0,190.0 L745.0,188.0 L747.0,199.0 L749.0,198.0 L751.0,187.0 L752.0,186.6" fill="none" stroke="rgba(0,0,0,0.45)" stroke-width="0.9" stroke-linejoin="round"/>
<line x1="657.8" x2="657.8" y1="74" y2="388.7" stroke="#2f9e6e" stroke-width="2"/>
<line x1="672" y1="317" x2="730" y2="242.5" stroke="#000" stroke-width="2"/>
<path d="M733,238.6 L727.7,241.6 L731.3,244.4 Z" fill="#000"/>
<g opacity="0.04" fill="#000" stroke="#000" stroke-width="0.6" stroke-linejoin="round" font-family="Liberation Sans, sans-serif" font-size="52.0"><text transform="translate(268.23,246.0) scale(1.2049,1)">g</text><text transform="translate(301.42,246.0) scale(1.0250,1)">l</text><text transform="translate(316.68,246.0) scale(1.0581,1)">a</text><text transform="translate(353.57,246.0) scale(0.9022,1)">s</text><text transform="translate(378.05,246.0) scale(0.8334,1)">s</text><text transform="translate(399.94,246.0) scale(1.0974,1)">n</text><text transform="translate(430.97,246.0) scale(1.1847,1)">o</text><text transform="translate(464.46,246.0) scale(1.2425,1)">d</text><text transform="translate(499.98,246.0) scale(1.1601,1)">e</text></g>
<circle cx="515" cy="65.7" r="2.9" fill="#f2a84e"/>
<circle cx="720.5" cy="65.7" r="2.9" fill="#7a7a7a"/>
</svg>
<div class="yl" style="top:102.7px">12 500k</div><div class="yl" style="top:142.2px">12 250k</div><div class="yl" style="top:181.7px">12 000k</div><div class="yl" style="top:221.2px">11 750k</div><div class="yl" style="top:260.7px">11 500k</div><div class="yl" style="top:300.2px">11 250k</div><div class="yl" style="top:339.7px">11 000k</div><div class="yl" style="top:379.2px">10 750k</div>
<div class="xl" style="left:50.8px">Jul '20</div><div class="xl" style="left:108.0px">Aug '20</div><div class="xl" style="left:166.0px">Sep '20</div><div class="xl" style="left:221.3px">Oct '20</div><div class="xl" style="left:278.7px">Nov '20</div><div class="xl" style="left:334.6px">Dec '20</div><div class="xl" style="left:392.3px">Jan '21</div><div class="xl" style="left:449.7px">Feb '21</div><div class="xl" style="left:501.0px">Mar '21</div><div class="xl" style="left:559.0px">Apr '21</div><div class="xl" style="left:614.5px">May '21</div><div class="xl" style="left:672.0px">Jun '21</div>
<div class="rl" style="top:102.5px">$60k</div>
<div class="rl" style="top:253px">$20k</div>
<div class="rl" style="top:378.5px;left:758.6px">$8k</div>
<div class="lg" style="left:520.5px">Total Supply Held by Long-Term Holders [BTC]</div>
<div class="lg" style="left:727px;letter-spacing:-0.18px">Price [USD]</div>
<div id="anno" class="abs">+741,363</div>
<div id="copy" class="abs">© 2021 Glassnode. All Rights Reserved.</div>
<div id="logo" class="abs">glassnode</div>
</body></html>
